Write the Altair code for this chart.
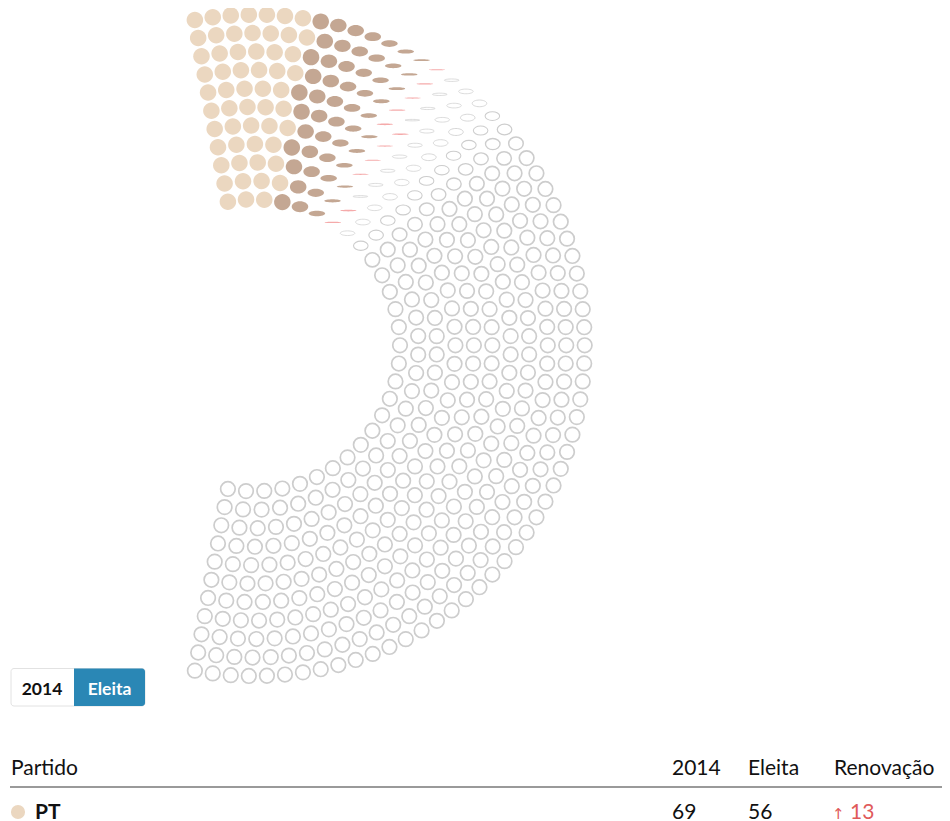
import math
import altair as alt
import pandas as pd

# ---------------- data ----------------
PARTIES = ["PT", "PSL", "PP", "vaga"]
# seats drawn in the captured frame: PT and PSL filled, PP seats mid-flip, the rest still empty
SEATS_SHOWN = [56, 52, 11, 394]
PARTY_COLORS = ["#ebd7c0", "#c4a793", "#f5aaaa", "#cdcdcd"]
RING_SEATS = [29, 32, 36, 39, 43, 47, 50, 54, 57, 61, 65]   # inner ring -> outer ring

BUTTONS = ["2014", "Eleita"]
TABLE_HEADERS = ["Partido", "2014", "Eleita", "Renovação"]
TABLE_PARTY = ["PT"]
TABLE_2014 = [69]
TABLE_ELEITA = [56]
TABLE_RENOV = [13]

# ---------------- layout ----------------
W, H = 934, 813
CX, CY = 246.0, 337.3
R_IN, R_OUT = 146.0, 330.7
SPAN = 200.6          # degrees of arc
FLIP_WIDTH = 22.0     # degrees over which the flip animation squashes seats
FONT = "Lato"

# parliament layout (seats sorted by angle, outer ring first)
seats = []
n_rings = len(RING_SEATS)
for i, n in enumerate(RING_SEATS):
    r = R_IN + (R_OUT - R_IN) * i / (n_rings - 1)
    for j in range(n):
        f = j / (n - 1)
        seats.append({"f": f, "r": r})
seats.sort(key=lambda s: (round(s["f"], 9), -s["r"]))

party_of = []
for p, c in zip(PARTIES, SEATS_SHOWN):
    party_of += [p] * c
for s, p in zip(seats, party_of):
    s["party"] = p

df = pd.DataFrame(seats)
df["color"] = df["party"].map(dict(zip(PARTIES, PARTY_COLORS)))
# math angle (counter-clockwise from +x): starts just left of straight up, sweeps clockwise
phi = (SPAN / 2 - SPAN * df["f"]) * math.pi / 180
df["x"] = CX + df["r"] * phi.apply(math.cos)
df["y"] = CY - df["r"] * phi.apply(math.sin)

front = df.loc[df["party"] == PARTIES[2], "f"].mean()
delta = (df["f"] - front).abs() * SPAN
df["s"] = (delta / FLIP_WIDTH).clip(0.07, 1.0).round(2)

K = 0.5523
def ellipse(s):
    a = K * s
    return (f"M-1,0C-1,{-a:.3f} {-K},{-s:.3f} 0,{-s:.3f}C{K},{-s:.3f} 1,{-a:.3f} 1,0"
            f"C1,{a:.3f} {K},{s:.3f} 0,{s:.3f}C{-K},{s:.3f} -1,{a:.3f} -1,0Z")

df["shape"] = df["s"].apply(ellipse)
df["sw"] = (1.7 * df["s"]).clip(0.7, 1.7)

xs = alt.X("x:Q", scale=alt.Scale(domain=[0, W], nice=False, zero=False), axis=None)
ys = alt.Y("y:Q", scale=alt.Scale(domain=[0, H], nice=False, zero=False, reverse=True), axis=None)

filled = alt.Chart(df[df["party"] != "vaga"]).mark_point(
    filled=True, opacity=1, strokeWidth=0, size=272
).encode(
    x=xs, y=ys,
    color=alt.Color("color:N", scale=None),
    shape=alt.Shape("shape:N", scale=None),
)

empty = alt.Chart(df[df["party"] == "vaga"]).mark_point(
    filled=False, opacity=1, size=212, color=PARTY_COLORS[3]
).encode(
    x=xs, y=ys,
    shape=alt.Shape("shape:N", scale=None),
    strokeWidth=alt.StrokeWidth("sw:Q", scale=None),
)

one = pd.DataFrame({"k": [0]})

# buttons
btn_box = alt.Chart(one).mark_rect(
    fill="white", stroke="#e2e2e2", strokeWidth=1, cornerRadius=3
).encode(x=alt.value(3), x2=alt.value(137), y=alt.value(660.5), y2=alt.value(698))
btn_on = alt.Chart(one).mark_rect(
    fill="#2a87b5", cornerRadiusTopRight=3, cornerRadiusBottomRight=3
).encode(x=alt.value(66), x2=alt.value(137), y=alt.value(660.5), y2=alt.value(698))
btn_t1 = alt.Chart(pd.DataFrame({"t": [BUTTONS[0]]})).mark_text(
    font=FONT, fontSize=17.5, fontWeight="bold", color="#111", align="center", baseline="alphabetic"
).encode(x=alt.value(34), y=alt.value(687), text="t:N")
btn_t2 = alt.Chart(pd.DataFrame({"t": [BUTTONS[1]]})).mark_text(
    font=FONT, fontSize=17.5, fontWeight="bold", color="white", align="center", baseline="alphabetic"
).encode(x=alt.value(101.5), y=alt.value(687), text="t:N")

# table header
hdr_x = [3, 664, 740, 826]
hdr_layers = [
    alt.Chart(pd.DataFrame({"t": [h]})).mark_text(
        font=FONT, fontSize=21, color="#111", align="left", baseline="alphabetic"
    ).encode(x=alt.value(x), y=alt.value(767), text="t:N")
    for h, x in zip(TABLE_HEADERS, hdr_x)
]
hdr_line = alt.Chart(one).mark_rule(color="#9a9a9a", strokeWidth=2).encode(
    x=alt.value(2), x2=alt.value(934), y=alt.value(779)
)

# first table row
row_dot = alt.Chart(pd.DataFrame({"p": TABLE_PARTY})).mark_point(
    filled=True, opacity=1, size=200, shape="circle", color=PARTY_COLORS[0]
).encode(x=alt.value(10), y=alt.value(804))
row_party = alt.Chart(pd.DataFrame({"t": TABLE_PARTY})).mark_text(
    font=FONT, fontSize=21, fontWeight="bold", color="#111", align="left", baseline="alphabetic"
).encode(x=alt.value(27), y=alt.value(811), text="t:N")
row_2014 = alt.Chart(pd.DataFrame({"t": TABLE_2014})).mark_text(
    font=FONT, fontSize=21, color="#111", align="left", baseline="alphabetic"
).encode(x=alt.value(664), y=alt.value(811), text="t:Q")
row_el = alt.Chart(pd.DataFrame({"t": TABLE_ELEITA})).mark_text(
    font=FONT, fontSize=21, color="#111", align="left", baseline="alphabetic"
).encode(x=alt.value(740), y=alt.value(811), text="t:Q")
row_arrow = alt.Chart(one).mark_text(
    font="DejaVu Sans", fontSize=15, color="#e05a5a", align="left", baseline="alphabetic", text="↑"
).encode(x=alt.value(824), y=alt.value(811))
row_ren = alt.Chart(pd.DataFrame({"t": TABLE_RENOV})).mark_text(
    font=FONT, fontSize=21, color="#e05a5a", align="left", baseline="alphabetic"
).encode(x=alt.value(842), y=alt.value(811), text="t:Q")

chart = alt.layer(
    empty, filled, btn_box, btn_on, btn_t1, btn_t2, *hdr_layers, hdr_line,
    row_dot, row_party, row_2014, row_el, row_arrow, row_ren
).properties(
    width=W, height=H, padding=0, autosize=alt.AutoSizeParams(type="none")
).configure_view(stroke=None)

chart.save("out.html", embed_options={"renderer": "svg", "actions": False})
